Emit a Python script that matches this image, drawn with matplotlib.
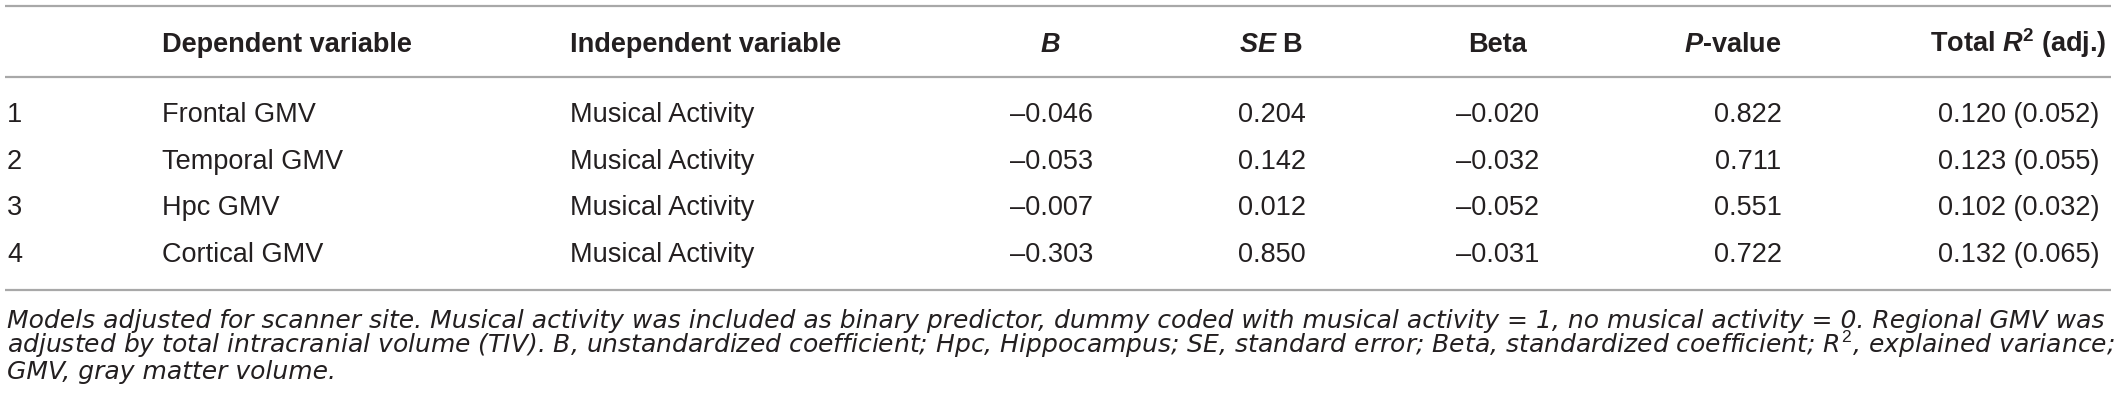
import matplotlib.pyplot as plt

# Dati della tabella
row_ids = ['1', '2', '3', '4']
dependent = ['Frontal GMV', 'Temporal GMV', 'Hpc GMV', 'Cortical GMV']
independent = ['Musical Activity'] * 4
b_vals = [-0.046, -0.053, -0.007, -0.303]
se_vals = [0.204, 0.142, 0.012, 0.850]
beta_vals = [-0.020, -0.032, -0.052, -0.031]
p_vals = [0.822, 0.711, 0.551, 0.722]
r2_total = [0.120, 0.123, 0.102, 0.132]
r2_adj = [0.052, 0.055, 0.032, 0.065]

headers = ['', 'Dependent variable', 'Independent variable', r'$\mathbfit{B}$',
           r'$\mathbfit{SE}$ B', 'Beta', r'$\mathbfit{P}$-value',
           r'Total $\mathbfit{R}^{\mathbf{2}}$ (adj.)']

footnote = [
    'Models adjusted for scanner site. Musical activity was included as binary predictor, '
    'dummy coded with musical activity = 1, no musical activity = 0. Regional GMV was',
    r'adjusted by total intracranial volume (TIV). B, unstandardized coefficient; Hpc, Hippocampus; '
    r'SE, standard error; Beta, standardized coefficient; $\mathit{R}^{2}$, explained variance;',
    'GMV, gray matter volume.',
]

plt.rcParams['font.family'] = 'Liberation Sans'
plt.rcParams['mathtext.fontset'] = 'custom'
plt.rcParams['mathtext.rm'] = 'Liberation Sans'
plt.rcParams['mathtext.it'] = 'Liberation Sans:italic'
plt.rcParams['mathtext.bf'] = 'Liberation Sans:bold'
plt.rcParams['mathtext.bfit'] = 'Liberation Sans:italic:bold'


def fmt(v):
    # trattino medio al posto del meno, come nell'originale
    s = f'{abs(v):.3f}'
    return ('\u2013' + s) if v < 0 else s


W, H = 2118, 413
fig = plt.figure(figsize=(W / 100, H / 100), dpi=100)
ax = fig.add_axes([0, 0, 1, 1])
ax.set_xlim(0, W)
ax.set_ylim(H, 0)
ax.axis('off')

txt = '#231f20'
line_col = '#a8a8a8'
fs = 19.5

# colonne: x header, x valori, allineamento
col_x = [7, 162, 570, 1050, 1271, 1497, 1733, 2018]
val_x = [7, 162, 570, 1052, 1272, 1498, 1748, 2019]
col_ha = ['left', 'left', 'left', 'center', 'center', 'center', 'center', 'center']

# linee orizzontali
for y in [5.5, 77, 290]:
    ax.plot([5, 2111], [y, y], color=line_col, lw=1.6, solid_capstyle='butt')

# intestazione
for x, ha, h in zip(col_x, col_ha, headers):
    if h:
        ax.text(x, 52, h, ha=ha, va='baseline', fontsize=fs, fontweight='bold', color=txt)

# righe
row_base = [122, 168.7, 215.3, 262]
for i, yb in enumerate(row_base):
    cells = [row_ids[i], dependent[i], independent[i], fmt(b_vals[i]), fmt(se_vals[i]),
             fmt(beta_vals[i]), fmt(p_vals[i]), f'{r2_total[i]:.3f} ({r2_adj[i]:.3f})']
    for x, ha, c in zip(val_x, col_ha, cells):
        ax.text(x, yb, c, ha=ha, va='baseline', fontsize=fs, color=txt)

# note a piè di tabella (font più largo per riempire la riga come nell'originale)
plt.rcParams['mathtext.it'] = 'DejaVu Sans:italic'
for k, line in enumerate(footnote):
    ax.text(7, 328 + k * 25.5, line, ha='left', va='baseline', fontsize=18.0,
            family='DejaVu Sans', style='italic', color=txt)

fig.savefig('out.png', dpi=100)
